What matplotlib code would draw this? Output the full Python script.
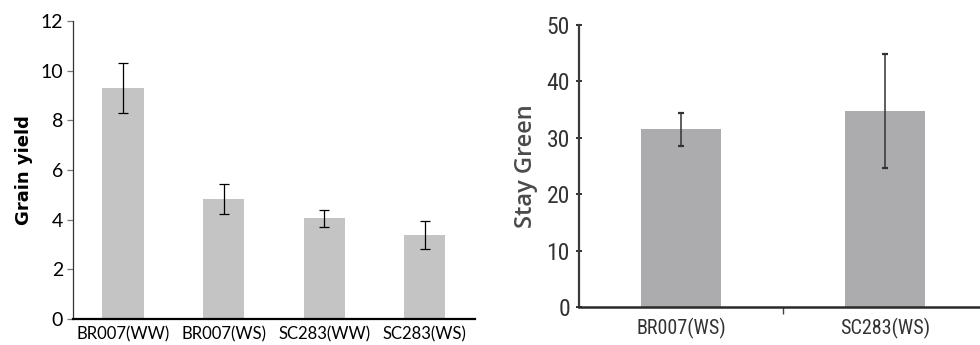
import numpy as np
import matplotlib
matplotlib.use("Agg")
import matplotlib.pyplot as plt

# left panel: grain yield
gy_labels = ["BR007(WW)", "BR007(WS)", "SC283(WW)", "SC283(WS)"]
gy_values = [9.3, 4.83, 4.05, 3.38]
gy_err = [1.0, 0.62, 0.34, 0.58]

# right panel: stay green
sg_labels = ["BR007(WS)", "SC283(WS)"]
sg_values = [31.5, 34.8]
sg_err = [3.0, 10.1]

fig = plt.figure(figsize=(9.8, 3.45), dpi=100)

# ---- left chart ----
ax1 = fig.add_axes([0.0742, 0.0754, 0.4105, 0.8638])
x1 = np.arange(len(gy_labels)) + 0.5
ax1.bar(x1, gy_values, width=0.41, color="#c4c4c4", zorder=2)
ax1.errorbar(x1, gy_values, yerr=gy_err, fmt="none", ecolor="black",
             elinewidth=0.9, capsize=3.5, capthick=0.9, zorder=3)
ax1.set_xlim(0, len(gy_labels))
ax1.set_ylim(0, 12)
ax1.set_yticks(np.arange(0, 13, 2))
ax1.set_xticks(x1)
ax1.set_xticklabels(gy_labels, fontsize=12, family=["Lato", "DejaVu Sans"])
for t in ax1.get_yticklabels():
    t.set_fontsize(14)
    t.set_family(["Lato", "DejaVu Sans"])
ax1.tick_params(axis="x", length=0, pad=5)
ax1.tick_params(axis="y", length=4, width=0.9, color="#777777", pad=3)
ax1.spines["top"].set_visible(False)
ax1.spines["right"].set_visible(False)
ax1.spines["left"].set_color("#333333")
ax1.spines["left"].set_linewidth(0.9)
ax1.spines["bottom"].set_color("black")
ax1.spines["bottom"].set_linewidth(1.6)
ax1.set_ylabel("Grain yield", fontsize=13, fontweight="bold", labelpad=5)

# ---- right chart ----
narrow = ["Liberation Sans Narrow", "DejaVu Sans Condensed", "Roboto Condensed",
          "DejaVu Sans"]
ax2 = fig.add_axes([0.5908, 0.1093, 0.4163, 0.8182])
x2 = np.arange(len(sg_labels)) + 0.5
ax2.bar(x2, sg_values, width=0.39, color="#acacae", zorder=2)
ax2.errorbar(x2, sg_values, yerr=sg_err, fmt="none", ecolor="#333333",
             elinewidth=1.1, capsize=2.5, capthick=1.6, zorder=3)
ax2.set_xlim(0, len(sg_labels))
ax2.set_ylim(0, 50)
ax2.set_yticks(np.arange(0, 51, 10))
ax2.set_xticks([1], minor=True)
ax2.set_xticks(x2)
ax2.set_xticklabels(sg_labels, fontsize=14.5, family=narrow, color="#333333")
for t in ax2.get_yticklabels():
    t.set_fontsize(17)
    t.set_family(narrow)
    t.set_color("#333333")
ax2.tick_params(axis="x", which="major", length=0, pad=8)
ax2.tick_params(axis="x", which="minor", length=5, width=1.0, color="#444444",
                direction="out")
ax2.tick_params(axis="y", length=5, width=1.4, color="#333333",
                direction="inout", pad=4)
ax2.spines["top"].set_visible(False)
ax2.spines["right"].set_visible(False)
ax2.spines["left"].set_color("#3a3a3a")
ax2.spines["left"].set_linewidth(1.6)
ax2.spines["bottom"].set_color("#2a2a2a")
ax2.spines["bottom"].set_linewidth(1.8)
ax2.set_ylabel("Stay Green", fontsize=17, fontweight=600, color="#4a4a4a",
               family=["Open Sans", "DejaVu Sans"], labelpad=6)

fig.savefig("out.png", dpi=100)
